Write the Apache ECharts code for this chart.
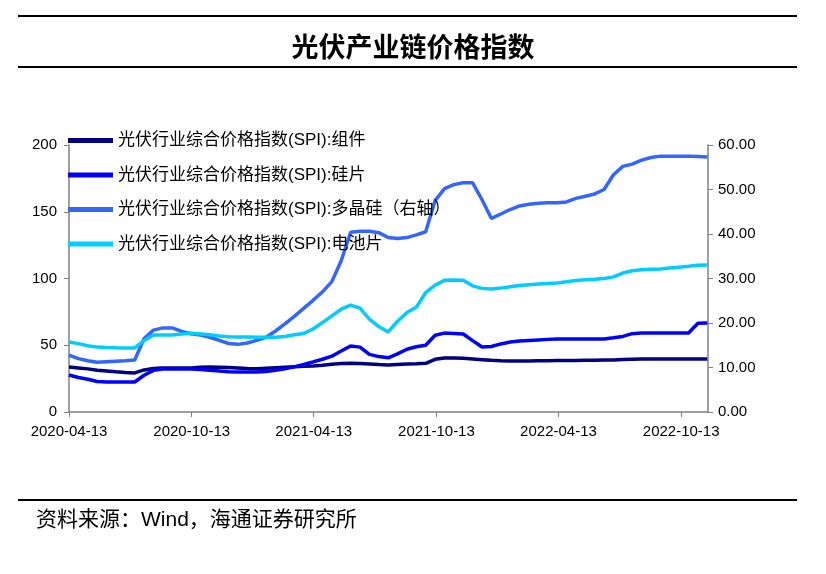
<!DOCTYPE html>
<html>
<head>
<meta charset="utf-8">
<script src="https://cdn.jsdelivr.net/npm/echarts@6/dist/echarts.min.js"></script>
<style>
html,body{margin:0;padding:0;background:#fff;}
#chart{width:826px;height:574px;}
</style>
</head>
<body>
<div id="chart"></div>
<script>
// Samples every 14 days starting 2020-04-13
const startDate = [2020, 3, 13];
const stepDays = 14;
const tickDates = ['2020-04-13','2020-10-13','2021-04-13','2021-10-13','2022-04-13','2022-10-13'];
const seriesNames = [
  '光伏行业综合价格指数(SPI):组件',
  '光伏行业综合价格指数(SPI):硅片',
  '光伏行业综合价格指数(SPI):多晶硅（右轴）',
  '光伏行业综合价格指数(SPI):电池片'
];
const moduleIdx = [33.7,33.0,32.3,31.3,30.7,30.1,29.6,29.3,31.5,32.6,
  33.0,33.0,33.0,33.0,33.5,33.7,33.6,33.4,33.0,32.6,
  32.4,32.8,33.2,33.6,33.9,34.2,34.5,35.1,35.8,36.4,
  36.6,36.3,35.9,35.5,35.2,35.6,36.0,36.2,36.5,39.5,
  40.4,40.4,40.2,39.7,39.2,38.7,38.3,38.2,38.2,38.2,
  38.3,38.4,38.5,38.6,38.6,38.7,38.8,38.9,39.0,39.3,
  39.6,39.7,39.7,39.7,39.7,39.7,39.7,39.7,39.7];
const waferIdx = [27.7,25.8,24.5,22.8,22.5,22.5,22.5,22.5,27.5,31.2,
  32.2,32.2,32.2,32.2,31.8,31.2,30.7,30.1,30.0,30.0,
  30.0,30.4,31.2,32.3,33.8,35.6,37.5,39.5,41.8,45.7,
  49.5,48.6,43.2,41.5,40.6,43.5,47.0,48.9,50.0,57.5,
  59.1,58.8,58.4,53.5,48.7,49.1,51.0,52.4,53.2,53.6,
  54.0,54.4,54.7,54.7,54.7,54.7,54.7,54.7,55.6,56.6,
  58.7,59.2,59.2,59.2,59.2,59.2,59.2,66.5,66.7];
const polyIdx = [12.8,12.0,11.5,11.2,11.3,11.4,11.5,11.7,16.5,18.4,
  18.9,18.9,18.1,17.6,17.3,16.8,16.1,15.4,15.2,15.5,
  16.1,16.8,18.2,19.8,21.5,23.3,25.1,27.0,29.3,34.0,
  40.4,40.6,40.6,40.3,39.2,39.0,39.2,39.8,40.5,47.5,
  50.2,51.1,51.5,51.5,47.7,43.5,44.5,45.5,46.3,46.7,
  46.9,47.0,47.0,47.2,48.0,48.5,49.0,50.0,53.3,55.2,
  55.7,56.6,57.2,57.5,57.5,57.5,57.5,57.4,57.3];
const cellIdx = [52.4,51.2,49.6,48.6,48.3,48.1,48.0,48.0,53.5,57.7,
  57.7,57.7,58.5,59.0,58.5,57.8,57.0,56.3,56.2,56.1,
  55.9,55.9,56.0,56.6,57.8,58.8,62.2,67.0,72.0,77.0,
  80.1,77.8,69.5,64.0,60.0,68.0,74.5,78.5,89.5,95.0,
  98.6,98.9,98.7,94.5,92.6,92.1,92.8,93.8,94.8,95.4,
  95.8,96.2,96.6,97.5,98.5,99.1,99.4,100.0,101.2,104.1,
  105.8,106.6,106.9,107.1,107.8,108.5,109.2,110.0,110.1];
const leftTicks = {min: 0, max: 200, interval: 50};
const rightTicks = {min: 0, max: 60, interval: 10};
const colors = ['#000080', '#0000FF', '#3366FF', '#00CCFF'];

function parseD(s){ const p = s.split('-').map(Number); return new Date(p[0], p[1]-1, p[2]).getTime(); }
function fmt(t){ const d = new Date(t); const pad = n => (n<10?'0':'')+n; return d.getFullYear()+'-'+pad(d.getMonth()+1)+'-'+pad(d.getDate()); }
const dates = moduleIdx.map((_, i) => new Date(startDate[0], startDate[1], startDate[2] + i*stepDays).getTime());
const pair = arr => arr.map((v, i) => [dates[i], v]);
const tickVals = tickDates.map(parseD);

const chart = echarts.init(document.getElementById('chart'));
const font = "'Liberation Sans', Arial, 'Noto Sans CJK SC', sans-serif";
const axisGray = '#808080';
chart.setOption({
  animation: false,
  backgroundColor: '#fff',
  textStyle: {fontFamily: font},
  title: {
    text: '光伏产业链价格指数',
    left: 'center', top: 28,
    textStyle: {fontSize: 27, fontWeight: 'bold', color: '#000', fontFamily: "'Noto Sans CJK SC', sans-serif"}
  },
  graphic: [
    {type: 'line', shape: {x1: 18, y1: 16, x2: 797, y2: 16}, style: {stroke: '#000', lineWidth: 2}},
    {type: 'line', shape: {x1: 18, y1: 67, x2: 797, y2: 67}, style: {stroke: '#000', lineWidth: 2}},
    {type: 'line', shape: {x1: 18, y1: 500, x2: 797, y2: 500}, style: {stroke: '#000', lineWidth: 2}},
    {type: 'text', left: 36, top: 510, style: {text: '资料来源：Wind，海通证券研究所', fontSize: 21, fill: '#000', fontFamily: "'Liberation Sans', 'Noto Sans CJK SC', sans-serif"}}
  ],
  legend: {
    orient: 'vertical', left: 63, top: 127,
    itemWidth: 45, itemHeight: 5, itemGap: 17.5,
    icon: 'rect',
    textStyle: {fontSize: 17, color: '#000', fontFamily: font},
    data: seriesNames
  },
  grid: {left: 69, right: 118, top: 145, bottom: 162, containLabel: false},
  xAxis: {
    type: 'value',
    min: parseD('2020-04-13'), max: parseD('2022-11-22'),
    axisLine: {lineStyle: {color: axisGray, width: 1.5}},
    axisTick: {show: true, length: 5, lineStyle: {color: axisGray}, customValues: tickVals},
    axisLabel: {customValues: tickVals, formatter: v => fmt(v), fontSize: 15, color: '#000', margin: 12, hideOverlap: false, showMinLabel: true, showMaxLabel: true},
    splitLine: {show: false}
  },
  yAxis: [
    {
      type: 'value', min: leftTicks.min, max: leftTicks.max, interval: leftTicks.interval,
      axisLine: {show: true, lineStyle: {color: axisGray, width: 1.5}},
      axisTick: {show: true, length: 5, lineStyle: {color: axisGray}},
      axisLabel: {fontSize: 15, color: '#000', margin: 12},
      splitLine: {show: false}
    },
    {
      type: 'value', min: rightTicks.min, max: rightTicks.max, interval: rightTicks.interval,
      position: 'right',
      axisLine: {show: true, lineStyle: {color: axisGray, width: 1.5}},
      axisTick: {show: true, length: 5, lineStyle: {color: axisGray}},
      axisLabel: {fontSize: 15, color: '#000', margin: 10, formatter: v => v.toFixed(2)},
      splitLine: {show: false}
    }
  ],
  series: [
    {name: seriesNames[0], type: 'line', data: pair(moduleIdx), yAxisIndex: 0, color: colors[0]},
    {name: seriesNames[1], type: 'line', data: pair(waferIdx), yAxisIndex: 0, color: colors[1]},
    {name: seriesNames[2], type: 'line', data: pair(polyIdx), yAxisIndex: 1, color: colors[2]},
    {name: seriesNames[3], type: 'line', data: pair(cellIdx), yAxisIndex: 0, color: colors[3]}
  ].map(s => Object.assign(s, {showSymbol: false, symbol: 'none', lineStyle: {width: 3.5, color: s.color}, itemStyle: {color: s.color}, z: 2}))
});
</script>
</body>
</html>
